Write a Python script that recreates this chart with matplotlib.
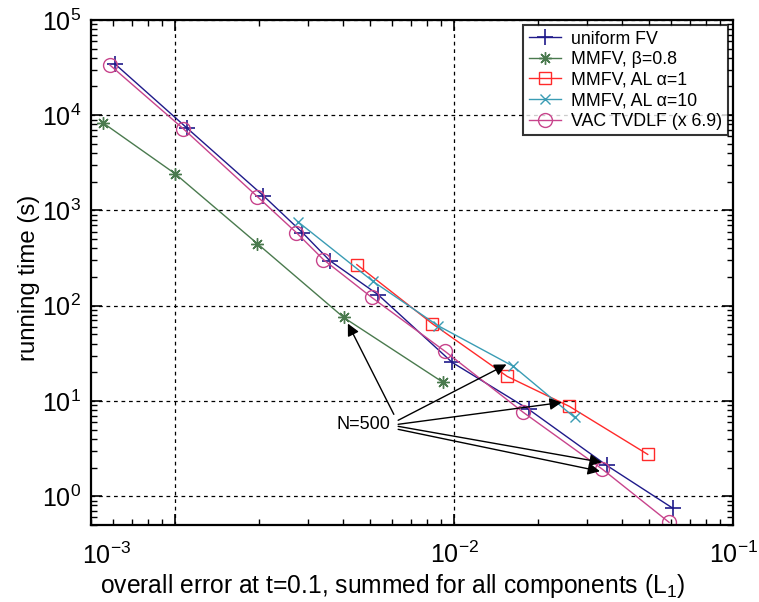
import numpy as np
import matplotlib
matplotlib.use("Agg")
import matplotlib.pyplot as plt
from matplotlib.transforms import blended_transform_factory

plt.rcParams['font.family'] = ['Liberation Sans', 'DejaVu Sans']
plt.rcParams['mathtext.fontset'] = 'custom'
plt.rcParams['mathtext.rm'] = 'Liberation Sans'
plt.rcParams['mathtext.it'] = 'Liberation Sans:italic'

## data
uniform_err = [6.08e-4, 1.10e-3, 2.07e-3, 2.86e-3, 3.58e-3, 5.33e-3, 9.84e-3, 1.85e-2, 3.52e-2, 6.08e-2]
uniform_time = [3.46e4, 7.38e3, 1.43e3, 585, 298, 131, 25.4, 8.17, 2.11, 0.748]

beta_err = [5.51e-4, 1.00e-3, 1.97e-3, 4.02e-3, 9.12e-3]
beta_time = [8.32e3, 2.43e3, 449, 75.2, 15.7]

al1_err = [4.48e-3, 8.34e-3, 1.55e-2, 2.59e-2, 4.94e-2]
al1_time = [270, 65.0, 18.1, 8.77, 2.75]

al10_err = [2.75e-3, 5.12e-3, 8.74e-3, 1.63e-2, 2.70e-2]
al10_time = [764, 180, 61.9, 23.1, 6.73]

vac_err = [5.83e-4, 1.07e-3, 1.97e-3, 2.72e-3, 3.40e-3, 5.07e-3, 9.29e-3, 1.77e-2, 3.40e-2, 5.89e-2]
vac_time = [3.37e4, 7.2e3, 1.40e3, 585, 305, 122, 33.1, 7.59, 1.92, 0.533]

# N=500 annotation: label position, arrow tails, arrow tips
n500_text = (4.74e-3, 5.69)
arrow_tails = [(6.08e-3, 7.24), (6.30e-3, 6.27), (6.30e-3, 5.69), (6.30e-3, 5.42), (6.30e-3, 5.04)]
arrow_tips = [(4.16e-3, 65.0), (1.54e-2, 24.2), (2.43e-2, 9.66), (3.38e-2, 2.27), (3.33e-2, 1.83)]


def main():
    fig = plt.figure(figsize=(7.59, 6.02), dpi=100)
    ax = fig.add_axes([0.120, 0.128, 0.846, 0.839])

    ax.plot(uniform_err, uniform_time, color='#1f1a8a', lw=1.0, marker='+', ms=11, mew=1.2,
            label='uniform FV')
    ax.plot(beta_err, beta_time, color='#4a7a4e', lw=1.0, marker=(8, 2, 0), ms=9, mew=1.0,
            label='MMFV, β=0.8')
    ax.plot(al1_err, al1_time, color='#ff2a2a', lw=1.0, marker='s', ms=8, mfc='none', mew=1.0,
            label='MMFV, AL α=1')
    ax.plot(al10_err, al10_time, color='#3a9cb4', lw=1.0, marker='x', ms=7, mew=1.0,
            label='MMFV, AL α=10')
    ax.plot(vac_err, vac_time, color='#c8448c', lw=1.0, marker='o', ms=10, mfc='none', mew=1.0,
            label='VAC TVDLF (x 6.9)')

    ax.set_xscale('log')
    ax.set_yscale('log')
    ax.set_xlim(5e-4, 1e-1)
    ax.set_ylim(0.5, 1e5)

    # grid only at the decades
    ax.grid(True, which='major', color='black', linestyle=(0, (3, 3)), lw=0.9)

    ax.set_xticks([1e-3, 1e-2, 1e-1])
    ax.set_xticklabels(['', '$10^{-2}$', '$10^{-1}$'])
    ax.set_yticks([1e0, 1e1, 1e2, 1e3, 1e4, 1e5])
    ax.set_yticklabels(['$10^{0}$', '$10^{1}$', '$10^{2}$', '$10^{3}$', '$10^{4}$', '$10^{5}$'])
    ax.tick_params(which='both', direction='in', top=True, right=True, labelsize=18)
    ax.tick_params(which='major', length=8, width=1.2)
    ax.tick_params(axis='y', which='major', pad=7)
    ax.tick_params(axis='x', which='major', pad=12)
    ax.tick_params(which='minor', length=4, width=1.0)
    for s in ax.spines.values():
        s.set_linewidth(1.6)

    # the 10^-3 label sits at the left end in the original
    trans = blended_transform_factory(ax.transData, ax.transAxes)
    ax.text(5.7e-4, -0.035, '$10^{-3}$', transform=trans, ha='center', va='top', fontsize=18)

    ax.set_xlabel('overall error at t=0.1, summed for all components (L$_1$)', fontsize=17.7)
    ax.set_ylabel('running time (s)', fontsize=17.3)
    ax.xaxis.set_label_coords(0.470, -0.093)
    ax.yaxis.set_label_coords(-0.080, 0.489)

    ax.text(n500_text[0], n500_text[1], 'N=500', fontsize=13, ha='center', va='center')
    for tail, tip in zip(arrow_tails, arrow_tips):
        ax.annotate('', xy=tip, xytext=tail,
                    arrowprops=dict(arrowstyle='-|>', color='black', lw=1.0, mutation_scale=18,
                                    shrinkA=0, shrinkB=0))

    leg = ax.legend(loc='upper right', fontsize=12.8, frameon=True, fancybox=False,
                    borderaxespad=0.3, handlelength=1.8, labelspacing=0.2, borderpad=0.3,
                    handletextpad=0.6)
    leg.get_frame().set_edgecolor('black')
    leg.get_frame().set_linewidth(1.5)

    fig.savefig('out.png', dpi=100)


if __name__ == "__main__":
    main()
